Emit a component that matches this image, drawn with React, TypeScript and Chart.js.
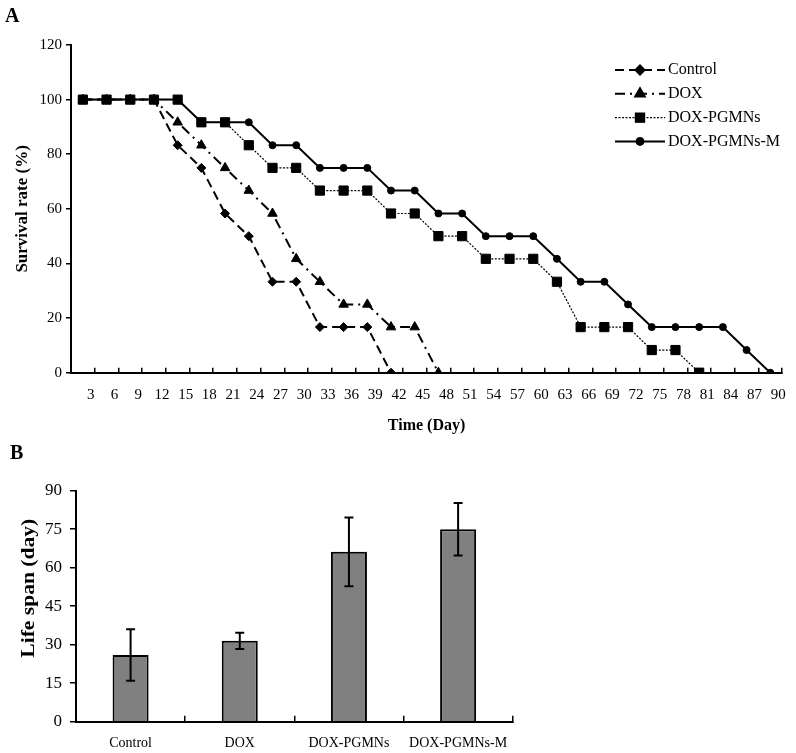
import React, { useEffect, useRef } from "react";
import { Chart, registerables } from "chart.js";
import { drawPoint } from "chart.js/helpers";

Chart.register(...registerables);

// ---------- Panel A data (survival, %) ----------
const dayLabels = [
  "3", "6", "9", "12", "15", "18", "21", "24", "27", "30",
  "33", "36", "39", "42", "45", "48", "51", "54", "57", "60",
  "63", "66", "69", "72", "75", "78", "81", "84", "87", "90",
];
const controlSurvival = [
  100, 100, 100, 100, 83.3, 75, 58.3, 50, 33.3, 33.3,
  16.7, 16.7, 16.7, 0, null, null, null, null, null, null,
  null, null, null, null, null, null, null, null, null, null,
];
const doxSurvival = [
  100, 100, 100, 100, 91.7, 83.3, 75, 66.7, 58.3, 41.7,
  33.3, 25, 25, 16.7, 16.7, 0, null, null, null, null,
  null, null, null, null, null, null, null, null, null, null,
];
const pgmnsSurvival = [
  100, 100, 100, 100, 100, 91.7, 91.7, 83.3, 75, 75,
  66.7, 66.7, 66.7, 58.3, 58.3, 50, 50, 41.7, 41.7, 41.7,
  33.3, 16.7, 16.7, 16.7, 8.3, 8.3, 0, null, null, null,
];
const pgmnsMSurvival = [
  100, 100, 100, 100, 100, 91.7, 91.7, 91.7, 83.3, 83.3,
  75, 75, 75, 66.7, 66.7, 58.3, 58.3, 50, 50, 50,
  41.7, 33.3, 33.3, 25, 16.7, 16.7, 16.7, 16.7, 8.3, 0,
];
const seriesNames = ["Control", "DOX", "DOX-PGMNs", "DOX-PGMNs-M"];

// ---------- Panel B data (life span, day) ----------
const groupLabels = ["Control", "DOX", "DOX-PGMNs", "DOX-PGMNs-M"];
const lifeSpanMean = [26, 31.5, 66.2, 75];
const lifeSpanErr = [10, 3.2, 13.4, 10.2];

const SERIF = "'Liberation Serif', 'Times New Roman', serif";

const legendPlugin = {
  id: "customLegend",
  afterDraw(chart: any) {
    const ctx = chart.ctx;
    const x0 = 615, x1 = 665, xm = 640, xt = 668;
    const yStart = 70, gap = 23.8;
    chart.data.datasets.forEach((ds: any, i: number) => {
      const y = yStart + i * gap;
      ctx.save();
      ctx.strokeStyle = "#000";
      ctx.lineWidth = ds.borderWidth;
      ctx.setLineDash(ds.borderDash || []);
      ctx.beginPath();
      ctx.moveTo(x0, y);
      ctx.lineTo(x1, y);
      ctx.stroke();
      ctx.setLineDash([]);
      ctx.fillStyle = "#000";
      drawPoint(ctx, { pointStyle: ds.pointStyle, radius: ds.pointRadius, borderWidth: 1, rotation: 0 }, xm, y);
      ctx.fill();
      ctx.font = `16px ${SERIF}`;
      ctx.textAlign = "left";
      ctx.textBaseline = "middle";
      ctx.fillText(ds.label, xt, y);
      ctx.restore();
    });
  },
};

const errorBarPlugin = {
  id: "errorBars",
  afterDatasetsDraw(chart: any) {
    const ctx = chart.ctx;
    const meta = chart.getDatasetMeta(0);
    const yScale = chart.scales.y;
    ctx.save();
    ctx.strokeStyle = "#000";
    ctx.lineWidth = 2;
    meta.data.forEach((bar: any, i: number) => {
      const x = bar.x;
      const yTop = yScale.getPixelForValue(lifeSpanMean[i] + lifeSpanErr[i]);
      const yBot = yScale.getPixelForValue(lifeSpanMean[i] - lifeSpanErr[i]);
      const cap = 4.5;
      ctx.beginPath();
      ctx.moveTo(x, yTop);
      ctx.lineTo(x, yBot);
      ctx.moveTo(x - cap, yTop);
      ctx.lineTo(x + cap, yTop);
      ctx.moveTo(x - cap, yBot);
      ctx.lineTo(x + cap, yBot);
      ctx.stroke();
    });
    ctx.restore();
  },
};

const bTitlePlugin = {
  id: "bYTitle",
  afterDraw(chart: any) {
    const ctx = chart.ctx;
    const yScale = chart.scales.y;
    const yc = yScale.getPixelForValue(52);
    ctx.save();
    ctx.translate(29, yc);
    ctx.rotate(-Math.PI / 2);
    ctx.font = `bold 18px ${SERIF}`;
    ctx.fillStyle = "#000";
    ctx.textAlign = "center";
    ctx.textBaseline = "middle";
    const text = "Life span (day)";
    const w = ctx.measureText(text).width;
    ctx.scale(Math.min(1.3, 139 / w), 1);
    ctx.fillText(text, 0, 0);
    ctx.restore();
  },
};

export default function App() {
  const refA = useRef<HTMLCanvasElement>(null);
  const refB = useRef<HTMLCanvasElement>(null);

  useEffect(() => {
    const chartA = new Chart(refA.current as HTMLCanvasElement, {
      type: "line",
      data: {
        labels: dayLabels,
        datasets: [
          {
            label: seriesNames[0],
            data: controlSurvival,
            borderColor: "#000",
            backgroundColor: "#000",
            borderWidth: 2,
            borderDash: [9, 5],
            pointStyle: "rectRot",
            pointRadius: 4.5,
            pointBackgroundColor: "#000",
            pointBorderColor: "#000",
            pointBorderWidth: 1,
            order: 2,
          },
          {
            label: seriesNames[1],
            data: doxSurvival,
            borderColor: "#000",
            backgroundColor: "#000",
            borderWidth: 2,
            borderDash: [10, 5, 2, 5],
            pointStyle: "triangle",
            pointRadius: 5.5,
            pointBackgroundColor: "#000",
            pointBorderColor: "#000",
            pointBorderWidth: 1,
            order: 3,
          },
          {
            label: seriesNames[2],
            data: pgmnsSurvival,
            borderColor: "#000",
            backgroundColor: "#000",
            borderWidth: 1.2,
            borderDash: [2, 1.5],
            pointStyle: "rect",
            pointRadius: 6.5,
            pointBackgroundColor: "#000",
            pointBorderColor: "#000",
            pointBorderWidth: 1,
            order: 0,
          },
          {
            label: seriesNames[3],
            data: pgmnsMSurvival,
            borderColor: "#000",
            backgroundColor: "#000",
            borderWidth: 2,
            borderDash: [],
            pointStyle: "circle",
            pointRadius: 3.5,
            pointBackgroundColor: "#000",
            pointBorderColor: "#000",
            pointBorderWidth: 1,
            order: 1,
          },
        ],
      },
      options: {
        responsive: false,
        animation: false,
        devicePixelRatio: 1,
        spanGaps: false,
        layout: { padding: { top: 45, right: 13, bottom: 0, left: 0 } },
        elements: { line: { tension: 0 } },
        plugins: { legend: { display: false }, tooltip: { enabled: false } },
        scales: {
          x: {
            type: "category",
            offset: true,
            afterFit: (s: any) => { s.height = 67.3; },
            grid: { offset: true, drawOnChartArea: false, tickLength: -5, color: "#000", lineWidth: 1.5 },
            border: { display: true, color: "#000", width: 2 },
            ticks: {
              autoSkip: false,
              maxRotation: 0,
              padding: 18,
              labelOffset: 8,
              color: "#000",
              font: { family: SERIF, size: 15 },
            },
            title: {
              display: true,
              text: "Time (Day)",
              color: "#000",
              font: { family: SERIF, size: 16, weight: "bold" },
              padding: { top: 0, bottom: 4.4 },
            },
          },
          y: {
            min: 0,
            max: 120,
            afterFit: (s: any) => { s.width = 71; },
            grid: { drawOnChartArea: false, tickLength: 5, color: "#000", lineWidth: 1.5 },
            border: { display: true, color: "#000", width: 2 },
            ticks: { stepSize: 20, padding: 4, color: "#000", font: { family: SERIF, size: 15 } },
            title: {
              display: true,
              text: "Survival rate (%)",
              color: "#000",
              font: { family: SERIF, size: 17, weight: "bold" },
              padding: { top: 12, bottom: 0 },
            },
          },
        },
      },
      plugins: [legendPlugin],
    } as any);

    const chartB = new Chart(refB.current as HTMLCanvasElement, {
      type: "bar",
      data: {
        labels: groupLabels,
        datasets: [
          {
            label: "Life span",
            data: lifeSpanMean,
            backgroundColor: "#808080",
            borderColor: "#000",
            borderWidth: 2,
            categoryPercentage: 1,
            barPercentage: 0.33,
          },
        ],
      },
      options: {
        responsive: false,
        animation: false,
        devicePixelRatio: 1,
        layout: { padding: { top: 50.7, right: 283.3, bottom: 0, left: 0 } },
        plugins: { legend: { display: false }, tooltip: { enabled: false } },
        scales: {
          x: {
            offset: true,
            afterFit: (s: any) => { s.height = 31.3; },
            grid: { offset: true, drawOnChartArea: false, tickLength: -6, color: "#000", lineWidth: 1.5 },
            border: { display: true, color: "#000", width: 2 },
            ticks: { autoSkip: false, maxRotation: 0, padding: 19, color: "#000", font: { family: SERIF, size: 14 } },
          },
          y: {
            min: 0,
            max: 90,
            afterFit: (s: any) => { s.width = 76; },
            grid: { drawOnChartArea: false, tickLength: 6, color: "#000", lineWidth: 1.5 },
            border: { display: true, color: "#000", width: 2 },
            ticks: { stepSize: 15, padding: 8, color: "#000", font: { family: SERIF, size: 17 } },
          },
        },
      },
      plugins: [errorBarPlugin, bTitlePlugin],
    } as any);

    return () => {
      chartA.destroy();
      chartB.destroy();
    };
  }, []);

  const panelLabel: React.CSSProperties = {
    position: "absolute",
    fontFamily: SERIF,
    fontWeight: "bold",
    fontSize: 20,
    lineHeight: "20px",
    color: "#000",
  };

  return (
    <div style={{ position: "absolute", left: 0, top: 0, width: 796, height: 753, background: "#fff", overflow: "hidden" }}>
      <canvas ref={refA} width={796} height={440} style={{ position: "absolute", left: 0, top: 0, width: 796, height: 440 }} />
      <canvas ref={refB} width={796} height={313} style={{ position: "absolute", left: 0, top: 440, width: 796, height: 313 }} />
      <div style={{ ...panelLabel, left: 5, top: 5 }}>A</div>
      <div style={{ ...panelLabel, left: 10, top: 442 }}>B</div>
    </div>
  );
}
